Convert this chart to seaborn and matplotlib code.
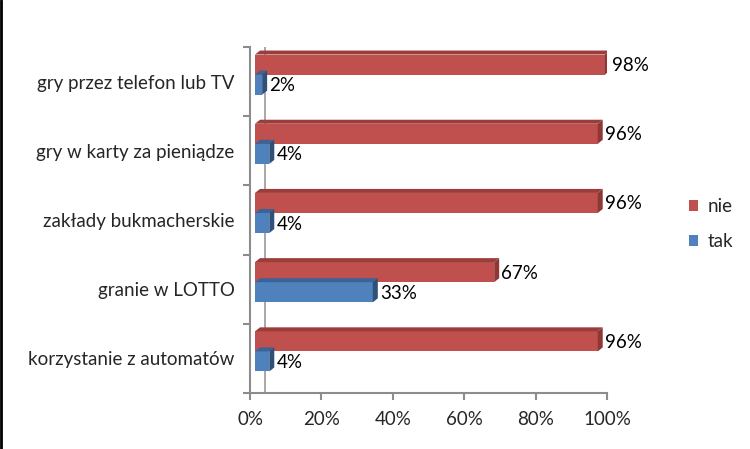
import matplotlib
matplotlib.use("Agg")
import matplotlib.pyplot as plt
import matplotlib.transforms as mtransforms
from matplotlib.patches import Polygon
from matplotlib.lines import Line2D
import seaborn as sns
import pandas as pd

categories = ["gry przez telefon lub TV", "gry w karty za pieniądze",
              "zakłady bukmacherskie", "granie w LOTTO", "korzystanie z automatów"]
tak = [2, 4, 4, 33, 4]
nie = [98, 96, 96, 67, 96]
series_names = ["nie", "tak"]
xticks = [0, 20, 40, 60, 80, 100]
xtick_labels = ["0%", "20%", "40%", "60%", "80%", "100%"]

colors = {"nie": "#C0504D", "tak": "#4F81BD"}
side_colors = {"nie": "#8E3836", "tak": "#2F5079"}
top_colors = {"nie": "#9B3E3B", "tak": "#3A6396"}

df = pd.DataFrame({
    "kategoria": categories * 2,
    "seria": ["nie"] * len(categories) + ["tak"] * len(categories),
    "wartosc": nie + tak,
})

sns.set_theme(style="white")
plt.rcParams["font.family"] = ["Lato", "DejaVu Sans"]
FS = 13.5

fig = plt.figure(figsize=(7.5, 4.49), dpi=100)
ax = fig.add_axes([250 / 750, (449 - 393) / 449, 357 / 750, 346 / 449])

sns.barplot(data=df, y="kategoria", x="wartosc", hue="seria", hue_order=series_names,
            order=categories, palette=colors, width=0.58, orient="h", ax=ax,
            legend=True, saturation=1, linewidth=0)

ax.set_xlim(0, 100)
ax.set_ylim(len(categories) - 0.5, -0.5)

# 3D-like depth
shift = mtransforms.ScaledTranslation(5 / 100, 7 / 100, fig.dpi_scale_trans)
dx = 5 / 357 * 100
dy = 4 / 69.2

for container, name in zip(ax.containers, series_names):
    for patch in container:
        patch.set_transform(ax.transData + shift)
        x0, y0 = patch.get_x(), patch.get_y()
        w, h = patch.get_width(), patch.get_height()
        top = Polygon([(x0, y0), (x0 + dx, y0 - dy), (x0 + w + dx, y0 - dy), (x0 + w, y0)],
                      closed=True, facecolor=top_colors[name], edgecolor="none",
                      transform=ax.transData + shift, zorder=patch.get_zorder())
        side = Polygon([(x0 + w, y0), (x0 + w + dx, y0 - dy), (x0 + w + dx, y0 + h - dy),
                        (x0 + w, y0 + h)],
                       closed=True, facecolor=side_colors[name], edgecolor="none",
                       transform=ax.transData + shift, zorder=patch.get_zorder())
        ax.add_patch(top)
        ax.add_patch(side)
        ax.annotate(f"{int(round(w))}%", xy=(x0 + w, y0 + h / 2), xytext=(12, 6),
                    textcoords="offset pixels", ha="left", va="center",
                    fontsize=FS, color="#000000")

# back wall line
ax.axvline(4.2, color="#999999", lw=1.2, zorder=0.5)

# spines / ticks
for s in ["top", "right"]:
    ax.spines[s].set_visible(False)
for s in ["left", "bottom"]:
    ax.spines[s].set_color("#8c8c8c")
    ax.spines[s].set_linewidth(1.5)

ax.set_xticks(xticks)
ax.set_xticklabels(xtick_labels, fontsize=FS)
ax.set_yticks(range(len(categories)))
ax.set_yticklabels(categories, fontsize=FS)
ax.set_yticks([i - 0.5 for i in range(len(categories) + 1)], minor=True)
ax.tick_params(axis="y", which="major", length=0, pad=11)
ax.tick_params(axis="y", which="minor", length=5, width=1.5, color="#8c8c8c", direction="out", left=True)
ax.tick_params(axis="x", which="major", length=5, width=1.5, color="#8c8c8c", direction="out", pad=8, bottom=True)
ax.set_xlabel("")
ax.set_ylabel("")

handles, labels = ax.get_legend_handles_labels()
ax.legend(handles, labels, loc="center left", bbox_to_anchor=(672 / 750, 1 - 224 / 449),
          bbox_transform=fig.transFigure, frameon=False, fontsize=FS,
          handlelength=0.5, handleheight=0.5, handletextpad=0.5, labelspacing=0.95)

fig.add_artist(Line2D([0.0015, 0.0015], [0, 1], color="black", lw=2, transform=fig.transFigure))

fig.savefig("out.png", dpi=100, facecolor="white")
